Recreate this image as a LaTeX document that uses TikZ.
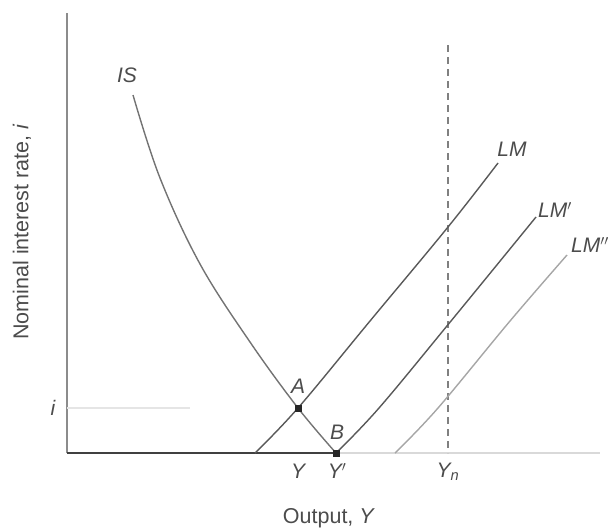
\documentclass[tikz,border=0pt]{standalone}
\usepackage{fontspec}
\setmainfont{Liberation Sans}
\begin{document}
\begin{tikzpicture}[x=1pt,y=-1pt,
  lbl/.style={font=\fontsize{21}{23}\selectfont\itshape, text=black!70, inner sep=0pt},
  axlbl/.style={font=\fontsize{21.5}{23}\selectfont, text=black!70, inner sep=0pt},
  curve/.style={line width=1.4pt, draw=black!65},
  pt/.style={fill=black!85, minimum size=7pt, inner sep=0pt, draw=none, rectangle}]
\useasboundingbox (0,0) rectangle (609,531);
% axes
\coordinate (O) at (67,453);
\coordinate (ytop) at (67,13);
\coordinate (xend) at (600,453);
\draw[black!45, line width=1.2pt] (O) -- (ytop);
\draw[black!15, line width=1.2pt] (336,453) -- (xend);
\draw[black!75, line width=1.8pt] (O) -- (336,453);
% natural output dashed line
\coordinate (ntop) at (448,45);
\coordinate (nbot) at (448,453);
\draw[black!50, line width=1.2pt, dash pattern=on 7pt off 5pt] (ntop) -- (nbot);
% i guide
\coordinate (ig) at (190,408);
\draw[black!10, line width=1.2pt] (67,408) -- (ig);
% IS curve
\draw[curve, draw=black!55] plot[smooth, tension=0.6] coordinates {(133,95) (160,178) (200,264) (250,342) (298,408) (336,453)};
% LM curves
\draw[curve] plot[smooth, tension=0.6] coordinates {(255,453) (298,408) (370,321) (448,227) (498,163)};
\draw[curve] plot[smooth, tension=0.6] coordinates {(336,453) (379,408) (451,321) (536,217)};
\draw[curve, draw=black!35] plot[smooth, tension=0.6] coordinates {(395,453) (438,408) (510,321) (567,255)};
% points
\node[pt] (A) at (298,408) {};
\node[pt] (B) at (336,453) {};
\node[lbl] (Al) at (298,386) {A};
\node[lbl] (Bl) at (337,432) {B};
% curve labels
\node[lbl] (IS) at (127,75) {IS};
\node[lbl] (LM) at (512,149) {LM};
\node[lbl] (LM1) at (555,210) {LM$'$};
\node[lbl, anchor=west] (LM2) at (571,245) {LM$''$};
% axis labels
\node[lbl] (il) at (53,408) {i};
\node[lbl] (Y1) at (298,471) {Y};
\node[lbl] (Y2) at (337,471) {Y$'$};
\node[lbl] (Yn) at (448,472) {Y\textsubscript{n}};
\node[axlbl] (xl) at (329,518) {Output, \textit{Y}};
\node[axlbl, rotate=90] (yl) at (22,232) {Nominal interest rate, \textit{i}};
\end{tikzpicture}
\end{document}
